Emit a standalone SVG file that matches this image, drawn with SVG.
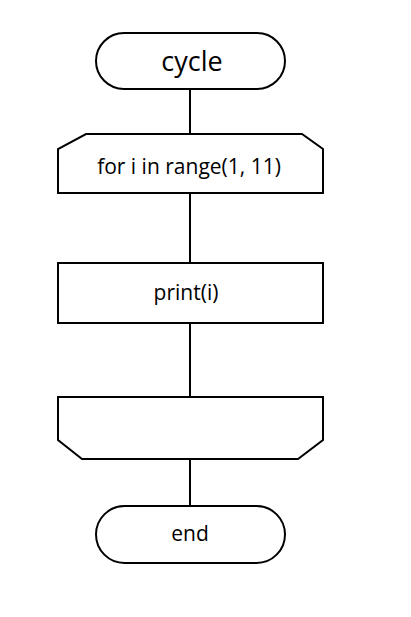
<svg xmlns="http://www.w3.org/2000/svg" width="411" height="617" viewBox="0 0 411 617">
<style>
.s{fill:#fff;stroke:#000;stroke-width:2}
.c{stroke:#000;stroke-width:2;fill:none}
text{font-family:"Open Sans","DejaVu Sans",sans-serif;fill:#000;text-anchor:middle;dominant-baseline:central}
</style>
<rect width="411" height="617" fill="#fff"/>
<g id="connectors">
<line class="c" x1="190" y1="89" x2="190" y2="134"/>
<line class="c" x1="190" y1="193" x2="190" y2="263"/>
<line class="c" x1="190" y1="323" x2="190" y2="397"/>
<line class="c" x1="190" y1="459" x2="190" y2="506"/>
</g>
<g id="start">
<rect class="s" x="96" y="33" width="189" height="56" rx="28"/>
<text x="192" y="60" font-size="27">cycle</text>
</g>
<g id="loop_start">
<path class="s" d="M86,134 H302 L323,149 V193 H58 V149 Z"/>
<text x="189" y="166" font-size="21">for i in range(1, 11)</text>
</g>
<g id="print">
<rect class="s" x="58" y="263" width="265" height="60"/>
<text x="186" y="292" font-size="21">print(i)</text>
</g>
<g id="end">
<rect class="s" x="96" y="506" width="189" height="57" rx="28.5"/>
<text x="190" y="533" font-size="21">end</text>
</g>
<g id="loop_end">
<path class="s" d="M58,397 H323 V440 L298,459 H82 L58,440 Z"/>
</g>
</svg>
